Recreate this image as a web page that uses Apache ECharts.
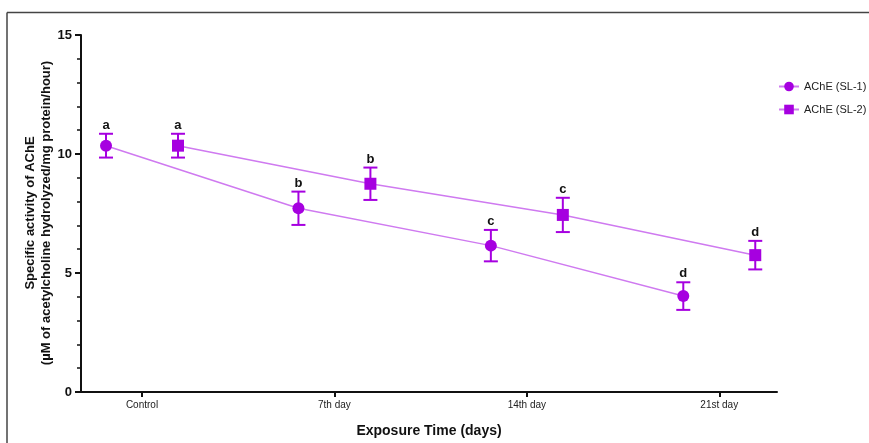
<!DOCTYPE html>
<html><head><meta charset="utf-8">
<script src="https://cdn.jsdelivr.net/npm/echarts@6/dist/echarts.min.js"></script>
<style>html,body{margin:0;padding:0;background:#fff}#c{width:869px;height:443px}</style>
</head><body><div id="c"></div>
<script>
const categories = ['Control', '7th day', '14th day', '21st day'];
const sl1Mean = [10.35, 7.72, 6.15, 4.03];
const sl1Err  = [0.50, 0.70, 0.66, 0.58];
const sl2Mean = [10.35, 8.75, 7.44, 5.75];
const sl2Err  = [0.50, 0.68, 0.72, 0.60];
const sl1Letters = ['a', 'b', 'c', 'd'];
const sl2Letters = ['a', 'b', 'c', 'd'];
const yTitle = 'Specific activity of AChE\n(µM of acetylcholine hydrolyzed/mg protein/hour)';
const xTitle = 'Exposure Time (days)';
const offset = 0.187;

const FONT = 'Arial, "Liberation Sans", sans-serif';
const markColor = '#a600e0';
const lineColor = '#cf7af0';

function pts(mean, dx){ return mean.map((v,i)=>[i+dx, v]); }
function errs(mean, err, dx){ return mean.map((v,i)=>[i+dx, v-err[i], v+err[i]]); }

function errRender(letters){
  return function(params, api){
    const x = api.value(0), lo = api.value(1), hi = api.value(2);
    const pt = api.coord([x, hi]), pb = api.coord([x, lo]);
    const cw = 7;
    const st = {stroke: markColor, lineWidth: 2};
    return {type:'group', children:[
      {type:'line', shape:{x1:pt[0], y1:pt[1], x2:pb[0], y2:pb[1]}, style:st},
      {type:'line', shape:{x1:pt[0]-cw, y1:pt[1], x2:pt[0]+cw, y2:pt[1]}, style:st},
      {type:'line', shape:{x1:pb[0]-cw, y1:pb[1], x2:pb[0]+cw, y2:pb[1]}, style:st},
      {type:'text', style:{x:pt[0], y:pt[1]-2, text:letters[params.dataIndex], align:'center', verticalAlign:'bottom', font:'bold 13px '+FONT, fill:'#111'}}
    ]};
  };
}

const chart = echarts.init(document.getElementById('c'), null, {renderer:'canvas'});
chart.setOption({
  animation:false,
  backgroundColor:'#fff',
  grid:{left:81, right:92, top:35, bottom:51},
  legend:{
    orient:'vertical', left:773, top:76, itemGap:12, itemWidth:20, itemHeight:12,
    textStyle:{fontFamily:FONT, fontSize:11, color:'#222'},
    data:['AChE (SL-1)','AChE (SL-2)']
  },
  xAxis:{
    type:'value', min:-0.317, max:3.30,
    splitLine:{show:false},
    axisLine:{onZero:false, lineStyle:{color:'#111', width:2}},
    axisTick:{customValues:[0,1,2,3], length:5, lineStyle:{color:'#111', width:2}},
    axisLabel:{customValues:[0,1,2,3], formatter:v=>categories[Math.round(v)], fontFamily:FONT, fontSize:10, color:'#222', margin:8},
    name:xTitle, nameLocation:'middle', nameGap:32,
    nameTextStyle:{fontFamily:FONT, fontSize:14, fontWeight:'bold', color:'#111'}
  },
  yAxis:{
    type:'value', min:0, max:15, interval:5,
    splitLine:{show:false},
    axisLine:{show:true, onZero:false, lineStyle:{color:'#111', width:2}},
    axisTick:{show:true, length:6, lineStyle:{color:'#111', width:2}},
    minorTick:{show:true, splitNumber:5, length:4, lineStyle:{color:'#111', width:1.5}},
    axisLabel:{fontFamily:FONT, fontSize:13, fontWeight:'bold', color:'#111', margin:9}
  },
  series:[
    {type:'custom', name:'err1', renderItem:errRender(sl1Letters), data:errs(sl1Mean, sl1Err, -offset), z:2, silent:true},
    {type:'custom', name:'err2', renderItem:errRender(sl2Letters), data:errs(sl2Mean, sl2Err, offset), z:2, silent:true},
    {type:'line', name:'AChE (SL-1)', data:pts(sl1Mean, -offset), symbol:'circle', symbolSize:12,
     itemStyle:{color:markColor}, lineStyle:{color:lineColor, width:1.5}, z:3},
    {type:'line', name:'AChE (SL-2)', data:pts(sl2Mean, offset), symbol:'rect', symbolSize:12,
     itemStyle:{color:markColor}, lineStyle:{color:lineColor, width:1.5}, z:3}
  ],
  graphic:[
    {type:'line', shape:{x1:7, y1:12.5, x2:869, y2:12.5}, style:{stroke:'#444', lineWidth:1.5}},
    {type:'line', shape:{x1:7, y1:12.5, x2:7, y2:443}, style:{stroke:'#444', lineWidth:1.5}},
    {type:'text', x:38, y:213, rotation:Math.PI/2,
     style:{text:yTitle, align:'center', verticalAlign:'middle', font:'bold 13px '+FONT, lineHeight:16, fill:'#111'}}
  ]
});
</script></body></html>
